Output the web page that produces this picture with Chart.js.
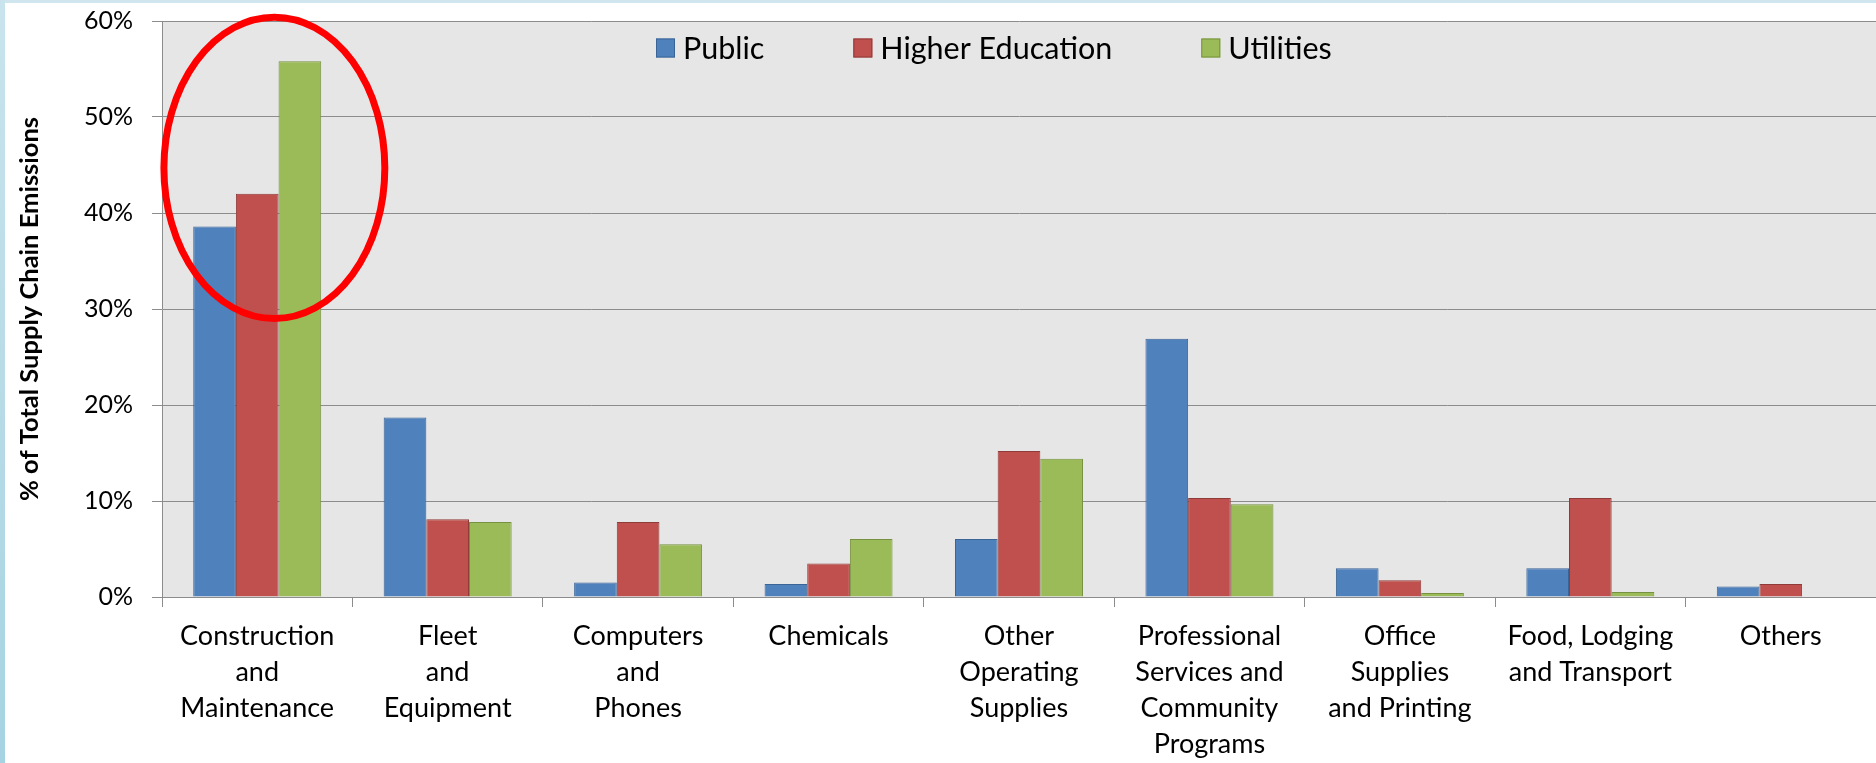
<!DOCTYPE html>
<html>
<head>
<meta charset="utf-8">
<script src="https://cdn.jsdelivr.net/npm/chart.js@4.4.1/dist/chart.umd.min.js"></script>
<style>
  html, body { margin: 0; padding: 0; background: #fff; }
  #wrap { position: relative; width: 1876px; height: 763px; overflow: hidden; }
  #chart { position: absolute; left: 0; top: 0; }
  #edge-top { position: absolute; left: 0; top: 0; width: 1876px; height: 3px; background: #cfe6ee; }
  #edge-left { position: absolute; left: 0; top: 0; width: 5px; height: 763px; background: linear-gradient(#c9e4ed, #a6d3e2); }
</style>
</head>
<body>
<div id="wrap">
  <canvas id="chart" width="1876" height="763"></canvas>
  <div id="edge-top"></div>
  <div id="edge-left"></div>
</div>
<script>
// --- datos: % de emisiones de la cadena de suministro por categoria ---
const categories = [
  ['Construction', 'and', 'Maintenance'],
  ['Fleet', 'and', 'Equipment'],
  ['Computers', 'and', 'Phones'],
  ['Chemicals'],
  ['Other', 'Operating', 'Supplies'],
  ['Professional', 'Services and', 'Community', 'Programs'],
  ['Office', 'Supplies', 'and Printing'],
  ['Food, Lodging', 'and Transport'],
  ['Others']
];
const seriesNames = ['Public', 'Higher Education', 'Utilities'];
const publicShare     = [38.6, 18.7, 1.5, 1.35, 6.05, 26.9, 3.0, 3.0, 1.1];
const higherEdShare   = [42.0, 8.1, 7.8, 3.5, 15.2, 10.3, 1.75, 10.3, 1.35];
const utilitiesShare  = [55.8, 7.8, 5.5, 6.05, 14.4, 9.65, 0.42, 0.52, null];
const yTickValues     = [0, 10, 20, 30, 40, 50, 60];

// zona resaltada (categoria 0): limites en unidades del eje
const highlightX = [-0.49, 0.67];
const highlightY = [29.0, 60.4];

const FONT = 'Lato';
const GRID = '#8c8c8c';
const fills   = ['#4f81bd', '#c0504d', '#9bbb59'];
const borders = ['#3a6496', '#8f3b39', '#76913f'];

// fondo gris del area de trazado
const plotBackground = {
  id: 'plotBackground',
  beforeDraw(chart) {
    const { ctx, chartArea: a } = chart;
    ctx.save();
    ctx.fillStyle = '#e6e6e6';
    ctx.fillRect(a.left, a.top, a.right - a.left, a.bottom - a.top);
    ctx.restore();
  }
};

// leyenda dibujada dentro del area de trazado
const insideLegend = {
  id: 'insideLegend',
  afterDatasetsDraw(chart) {
    const { ctx, chartArea: a } = chart;
    const box = 19, gapText = 8, gapItem = 89;
    let x = a.left + 494;
    const cy = a.top + 27;
    ctx.save();
    ctx.font = '30.5px ' + FONT;
    ctx.textBaseline = 'middle';
    ctx.textAlign = 'left';
    chart.data.datasets.forEach(ds => {
      ctx.fillStyle = ds.backgroundColor;
      ctx.fillRect(x, cy - box / 2, box, box);
      ctx.strokeStyle = ds.borderColor;
      ctx.lineWidth = 1;
      ctx.strokeRect(x + 0.5, cy - box / 2 + 0.5, box - 1, box - 1);
      ctx.fillStyle = '#000';
      ctx.fillText(ds.label, x + box + gapText, cy + 1);
      x += box + gapText + ctx.measureText(ds.label).width + gapItem;
    });
    ctx.restore();
  }
};

// elipse roja sobre la primera categoria
const highlightRing = {
  id: 'highlightRing',
  afterDraw(chart) {
    const { ctx, scales: { x, y } } = chart;
    const step = x.getPixelForValue(1) - x.getPixelForValue(0);
    const x0 = x.getPixelForValue(0) + highlightX[0] * step;
    const x1 = x.getPixelForValue(0) + highlightX[1] * step;
    const yTop = y.getPixelForValue(highlightY[1]);
    const yBot = y.getPixelForValue(highlightY[0]);
    ctx.save();
    ctx.strokeStyle = '#ff0000';
    ctx.lineWidth = 7;
    ctx.beginPath();
    ctx.ellipse((x0 + x1) / 2, (yTop + yBot) / 2, (x1 - x0) / 2, (yBot - yTop) / 2, 0, 0, Math.PI * 2);
    ctx.stroke();
    ctx.restore();
  }
};

const shares = [publicShare, higherEdShare, utilitiesShare];

new Chart(document.getElementById('chart'), {
  type: 'bar',
  data: {
    labels: categories,
    datasets: seriesNames.map((name, i) => ({
      label: name,
      data: shares[i],
      backgroundColor: fills[i],
      borderColor: borders[i],
      borderWidth: 1,
      categoryPercentage: 0.672,
      barPercentage: 1.0
    }))
  },
  options: {
    responsive: false,
    animation: false,
    layout: { padding: { top: 21, right: 0, bottom: 0, left: 0 } },
    plugins: {
      legend: { display: false },
      tooltip: { enabled: false }
    },
    scales: {
      x: {
        afterFit(scale) {
          scale.height = 166;
          scale.paddingLeft = 0;
          scale.paddingRight = 0;
        },
        grid: { display: true, drawOnChartArea: false, drawTicks: true, tickLength: 10, color: GRID, offset: true },
        border: { display: true, color: GRID, width: 1 },
        ticks: {
          color: '#000',
          padding: 11,
          maxRotation: 0,
          autoSkip: false,
          font: { family: FONT, size: 27, lineHeight: 1.333 }
        }
      },
      y: {
        min: 0,
        max: 60,
        afterFit(scale) {
          scale.width = 162;
          scale.paddingTop = 0;
          scale.paddingBottom = 0;
        },
        afterBuildTicks(scale) { scale.ticks = yTickValues.map(v => ({ value: v })); },
        grid: { color: GRID, lineWidth: 1, tickLength: 10, drawTicks: true },
        border: { display: true, color: GRID, width: 1 },
        ticks: {
          color: '#000',
          padding: 19,
          font: { family: FONT, size: 25 },
          callback: v => v + '%'
        },
        title: {
          display: true,
          text: '% of Total Supply Chain Emissions',
          color: '#000',
          font: { family: FONT, size: 25.5, weight: 'bold' },
          padding: { top: 14, bottom: 0 }
        }
      }
    }
  },
  plugins: [plotBackground, insideLegend, highlightRing]
});
</script>
</body>
</html>
